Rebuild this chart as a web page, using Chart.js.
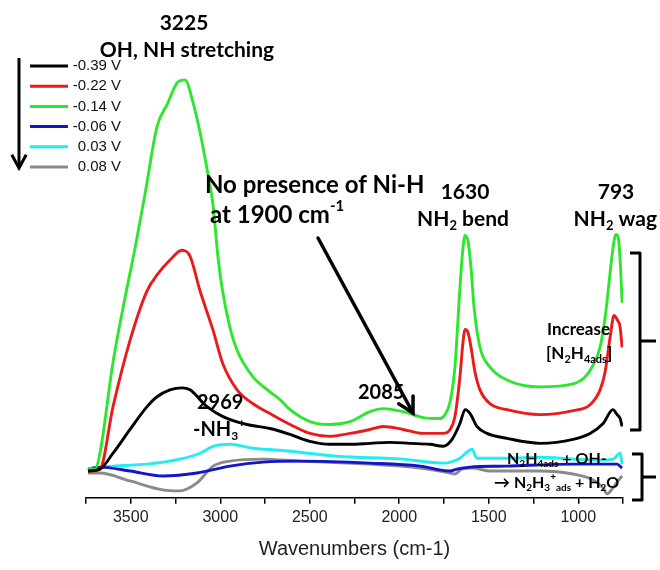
<!DOCTYPE html>
<html>
<head>
<meta charset="utf-8">
<script src="https://cdn.jsdelivr.net/npm/chart.js@4.4.1/dist/chart.umd.min.js"></script>
<style>
html,body{margin:0;padding:0;background:#fff;}
#wrap{position:relative;width:660px;height:570px;}
</style>
</head>
<body>
<div id="wrap"><canvas id="c" width="660" height="570"></canvas></div>
<script>
// ---------- data (wavenumber in cm-1, absorbance in milli a.u.) ----------
const seriesLabels = ['-0.39 V', '-0.22 V', '-0.14 V', '-0.06 V', '0.03 V', '0.08 V'];
const seriesColors = ['#000000', '#ea1b1b', '#2ee62e', '#1414c8', '#22eeee', '#8a8a8a'];

const wnBlack  = [3739,3672,3599,3504,3409,3353,3281,3214,3169,3074,2985,2851,2722,2610,2499,2387,2275,2163,2052,1940,1828,1755,1705,1661,1632,1604,1566,1510,1398,1213,1029,934,861,806,783,766,755];
const absBlack = [27,29,45,69,92,102,109,111,109,92,82,74,70,64,57,54,54,55,56,55,54,52,59,75,89,85,72,65,60,55,59,65,75,89,84,80,72];

const wnRed  = [3739,3672,3599,3504,3409,3353,3281,3214,3169,3113,3040,2985,2906,2817,2722,2610,2499,2387,2275,2163,2091,1979,1867,1755,1716,1689,1661,1644,1632,1616,1599,1577,1549,1493,1398,1213,1029,934,878,850,822,800,783,766,755];
const absRed = [27,29,92,159,209,225,240,250,244,209,169,135,109,95,85,74,65,62,65,69,72,69,65,65,69,82,122,157,170,167,152,127,109,95,89,84,88,94,109,127,162,184,180,172,152];

const wnGreen  = [3739,3700,3672,3599,3532,3476,3420,3353,3297,3236,3197,3152,3113,3074,3040,3012,2990,2946,2906,2817,2722,2666,2610,2499,2387,2275,2163,2091,1979,1867,1772,1744,1716,1689,1661,1644,1632,1616,1599,1582,1549,1493,1398,1213,1029,962,917,878,850,828,806,789,778,766,755];
const absGreen = [30,29,45,137,202,252,307,375,397,420,422,399,369,332,295,242,212,172,149,122,107,99,89,77,74,77,87,90,87,81,80,84,97,132,212,252,265,259,232,192,152,132,119,112,115,122,134,152,182,217,252,266,264,240,197];

const wnBlue  = [3739,3672,3504,3320,3130,2946,2761,2554,2163,1884,1716,1677,1650,1604,1398,1029,878,783,755];
const absBlue = [29,31,27,22,25,32,36,37,35,32,27,29,30,31,32,34,34,34,30];

const wnCyan  = [3739,3599,3409,3225,3113,3040,2946,2817,2666,2348,1979,1755,1661,1616,1594,1566,1398,1213,1029,878,806,766,755];
const absCyan = [29,32,34,39,45,52,54,50,48,42,39,35,40,47,49,40,40,41,39,38,39,45,34];

const wnGray  = [3739,3672,3504,3320,3225,3130,3040,2946,2761,2554,2163,1884,1716,1689,1650,1588,1493,1213,1029,917,861,839,806,778,755];
const absGray = [25,25,17,8,7,15,32,37,39,37,34,30,25,24,29,30,27,27,24,18,10,4,10,17,22];

const xMin = 750, xMax = 3750, xStep = 250, xLabelStep = 500;
const xTitle = 'Wavenumbers (cm-1)';

const seriesWn  = [wnBlack, wnRed, wnGreen, wnBlue, wnCyan, wnGray];
const seriesAbs = [absBlack, absRed, absGreen, absBlue, absCyan, absGray];

// ---------- helpers ----------
const F = 'Lato, "Open Sans", sans-serif';
function richWidth(ctx, parts, size) {
  let w = 0;
  for (const p of parts) {
    ctx.font = 'bold ' + (p[1] ? Math.round(size * 0.62) : size) + 'px ' + F;
    w += ctx.measureText(p[0]).width;
  }
  return w;
}
function drawRich(ctx, parts, x, y, size, align) {
  const w = richWidth(ctx, parts, size);
  let cx = align === 'center' ? x - w / 2 : (align === 'right' ? x - w : x);
  ctx.textAlign = 'left';
  ctx.textBaseline = 'middle';
  ctx.fillStyle = '#000';
  for (const p of parts) {
    const small = p[1] ? Math.round(size * 0.62) : size;
    ctx.font = 'bold ' + small + 'px ' + F;
    const dy = p[1] === 1 ? size * 0.32 : (p[1] === 2 ? -size * 0.36 : 0);
    ctx.fillText(p[0], cx, y + dy);
    cx += ctx.measureText(p[0]).width;
  }
}
function arrowHead(ctx, x1, y1, x2, y2, len, ang) {
  const a = Math.atan2(y2 - y1, x2 - x1);
  ctx.beginPath();
  ctx.moveTo(x2 - len * Math.cos(a - ang), y2 - len * Math.sin(a - ang));
  ctx.lineTo(x2, y2);
  ctx.lineTo(x2 - len * Math.cos(a + ang), y2 - len * Math.sin(a + ang));
  ctx.stroke();
}

const annotations = {
  id: 'annotations',
  afterDraw(chart) {
    const ctx = chart.ctx;
    ctx.save();
    // legend
    ctx.lineCap = 'butt';
    seriesLabels.forEach((lab, i) => {
      const y = 66 + i * 20.2;
      ctx.strokeStyle = seriesColors[i];
      ctx.lineWidth = 3;
      ctx.beginPath(); ctx.moveTo(30, y); ctx.lineTo(68, y); ctx.stroke();
      ctx.fillStyle = '#111';
      ctx.font = '15px "Liberation Sans", Arial, sans-serif';
      ctx.textAlign = 'right'; ctx.textBaseline = 'middle';
      ctx.fillText(lab, 121, y);
    });
    // legend arrow
    ctx.strokeStyle = '#000'; ctx.lineWidth = 3;
    ctx.beginPath(); ctx.moveTo(19, 58); ctx.lineTo(19, 167); ctx.stroke();
    arrowHead(ctx, 19, 58, 19, 168, 15, 0.5);

    // labels
    drawRich(ctx, [['3225']], 184, 23, 21, 'center');
    drawRich(ctx, [['OH, NH stretching']], 187, 50, 21, 'center');
    drawRich(ctx, [['No presence of Ni-H']], 205, 185, 24, 'left');
    drawRich(ctx, [['at 1900 cm'], ['-1', 2]], 210, 215, 24, 'left');
    drawRich(ctx, [['1630']], 465, 192, 21, 'center');
    drawRich(ctx, [['NH'], ['2', 1], [' bend']], 463, 219, 21, 'center');
    drawRich(ctx, [['793']], 616, 192, 21, 'center');
    drawRich(ctx, [['NH'], ['2', 1], [' wag']], 657, 219, 21, 'right');
    drawRich(ctx, [['2969']], 197, 403, 20, 'left');
    drawRich(ctx, [['-NH'], ['3', 1], ['+', 2]], 193, 430, 20, 'left');
    drawRich(ctx, [['2085']], 358, 393, 20, 'left');
    drawRich(ctx, [['Increase']], 547, 330, 17, 'left');
    drawRich(ctx, [['[N'], ['2', 1], ['H'], ['4ads', 1], [']']], 546, 354, 17, 'left');
    drawRich(ctx, [['N'], ['2', 1], ['H'], ['4ads', 1], [' + OH-']], 507, 459, 16, 'left');
    drawRich(ctx, [['\u2192 N'], ['2', 1], ['H'], ['3', 1], ['+', 2], ['ads', 1], [' + H'], ['2', 1], ['O']], 494, 483, 16, 'left');

    // diagonal arrow
    ctx.strokeStyle = '#000'; ctx.lineWidth = 3.5; ctx.lineCap = 'round';
    ctx.beginPath(); ctx.moveTo(318, 238); ctx.lineTo(413, 413); ctx.stroke();
    arrowHead(ctx, 318, 238, 413, 413, 17, 0.5);

    // brackets
    ctx.lineWidth = 3; ctx.lineCap = 'butt'; ctx.lineJoin = 'round';
    ctx.beginPath();
    ctx.moveTo(630, 253); ctx.lineTo(640, 253); ctx.lineTo(640, 430); ctx.lineTo(630, 430);
    ctx.moveTo(640, 341); ctx.lineTo(656, 341);
    ctx.moveTo(632, 454); ctx.lineTo(642, 454); ctx.lineTo(642, 500); ctx.lineTo(632, 500);
    ctx.moveTo(642, 477); ctx.lineTo(656, 477);
    ctx.stroke();
    ctx.restore();
  }
};

const datasets = seriesLabels.map((lab, i) => ({
  label: lab,
  data: seriesWn[i].map((w, j) => ({ x: w, y: seriesAbs[i][j] })),
  borderColor: seriesColors[i],
  backgroundColor: seriesColors[i],
  borderWidth: 2.9,
  pointRadius: 0,
  fill: false,
  cubicInterpolationMode: 'monotone',
  tension: 0.4
}));

new Chart(document.getElementById('c'), {
  type: 'line',
  data: { datasets },
  options: {
    responsive: false,
    animation: false,
    devicePixelRatio: 1,
    layout: { padding: { left: 86, right: 37, top: 62, bottom: 7 } },
    plugins: { legend: { display: false }, tooltip: { enabled: false } },
    scales: {
      x: {
        type: 'linear',
        reverse: true,
        min: xMin, max: xMax,
        border: { display: true, color: '#000', width: 1.5 },
        grid: { display: true, drawOnChartArea: false, drawTicks: true, tickLength: 6, color: '#000', lineWidth: 1.5 },
        ticks: {
          stepSize: xStep, autoSkip: false, maxRotation: 0, padding: 4,
          color: '#222',
          font: { family: '"Liberation Sans", Arial, sans-serif', size: 16 },
          callback: (v) => (v % xLabelStep === 0 && v > xMin && v < xMax) ? String(v) : ''
        },
        title: {
          display: true, text: xTitle, color: '#222',
          font: { family: '"Liberation Sans", Arial, sans-serif', size: 20 },
          padding: { top: 6, bottom: 2 }
        }
      },
      y: { display: false, min: 0, max: 440 }
    }
  },
  plugins: [annotations]
});
</script>
</body>
</html>
